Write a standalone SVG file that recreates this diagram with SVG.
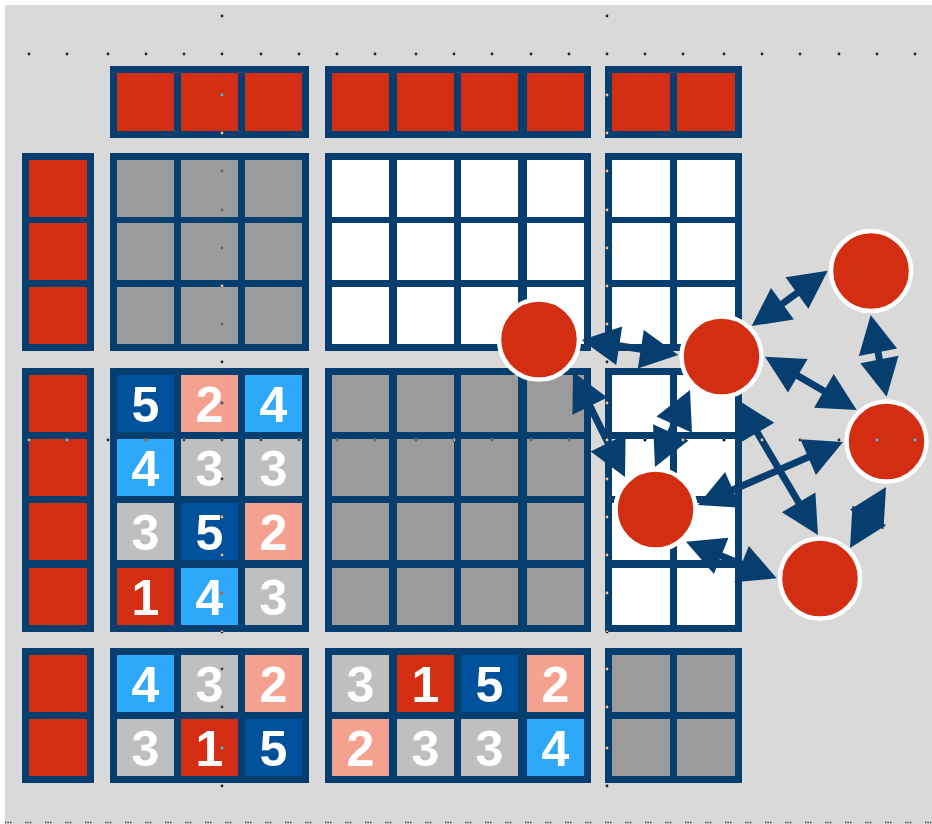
<svg xmlns="http://www.w3.org/2000/svg" width="932" height="824" viewBox="0 0 932 824">
<style>
.f{fill:#063F6F}
.r{fill:#D32E12}
.g{fill:#9B9B9B}
.w{fill:#FFFFFF}
.lg{fill:#BFBFBF}
.s{fill:#F4A190}
.lb{fill:#2EA8F9}
.db{fill:#00519B}
.n{font-family:"Liberation Sans",Arial,sans-serif;font-weight:bold;font-size:50px;fill:#FFFFFF;text-anchor:middle}
.node{fill:#D32E12;stroke:#FFFFFF;stroke-width:4.5}
.edge{stroke:#063F6F;stroke-width:7;fill:none}
.head{fill:#063F6F}
.dots circle{fill:#FFFFFF}
</style>
<rect x="0" y="0" width="932" height="824" fill="#FFFFFF"/>
<rect x="5" y="5" width="927" height="819" fill="#D9D9D9"/>

<!-- Top row -->
<g id="top-A">
<rect class="f" x="110" y="66" width="199" height="72"/>
<rect class="r" x="117" y="73" width="57" height="58"/><rect class="r" x="181" y="73" width="57" height="58"/><rect class="r" x="245" y="73" width="57" height="58"/>
</g>
<g id="top-B">
<rect class="f" x="325" y="66" width="266" height="72"/>
<rect class="r" x="332" y="73" width="57" height="58"/><rect class="r" x="397" y="73" width="57" height="58"/><rect class="r" x="461" y="73" width="57" height="58"/><rect class="r" x="527" y="73" width="57" height="58"/>
</g>
<g id="top-C">
<rect class="f" x="605" y="66" width="137" height="72"/>
<rect class="r" x="612" y="73" width="58" height="58"/><rect class="r" x="677" y="73" width="58" height="58"/>
</g>

<!-- Row block 1 -->
<g id="r1-L">
<rect class="f" x="22" y="153" width="72" height="198"/>
<rect class="r" x="29" y="160" width="58" height="57"/><rect class="r" x="29" y="223" width="58" height="57"/><rect class="r" x="29" y="287" width="58" height="57"/>
</g>
<g id="r1-A">
<rect class="f" x="110" y="153" width="199" height="198"/>
<rect class="g" x="117" y="160" width="57" height="57"/><rect class="g" x="181" y="160" width="57" height="57"/><rect class="g" x="245" y="160" width="57" height="57"/>
<rect class="g" x="117" y="223" width="57" height="57"/><rect class="g" x="181" y="223" width="57" height="57"/><rect class="g" x="245" y="223" width="57" height="57"/>
<rect class="g" x="117" y="287" width="57" height="57"/><rect class="g" x="181" y="287" width="57" height="57"/><rect class="g" x="245" y="287" width="57" height="57"/>
</g>
<g id="r1-B">
<rect class="f" x="325" y="153" width="266" height="198"/>
<rect class="w" x="332" y="160" width="57" height="57"/><rect class="w" x="397" y="160" width="57" height="57"/><rect class="w" x="461" y="160" width="57" height="57"/><rect class="w" x="527" y="160" width="57" height="57"/>
<rect class="w" x="332" y="223" width="57" height="57"/><rect class="w" x="397" y="223" width="57" height="57"/><rect class="w" x="461" y="223" width="57" height="57"/><rect class="w" x="527" y="223" width="57" height="57"/>
<rect class="w" x="332" y="287" width="57" height="57"/><rect class="w" x="397" y="287" width="57" height="57"/><rect class="w" x="461" y="287" width="57" height="57"/><rect class="w" x="527" y="287" width="57" height="57"/>
</g>
<g id="r1-C">
<rect class="f" x="605" y="153" width="137" height="198"/>
<rect class="w" x="612" y="160" width="58" height="57"/><rect class="w" x="677" y="160" width="58" height="57"/>
<rect class="w" x="612" y="223" width="58" height="57"/><rect class="w" x="677" y="223" width="58" height="57"/>
<rect class="w" x="612" y="287" width="58" height="57"/><rect class="w" x="677" y="287" width="58" height="57"/>
</g>

<!-- Row block 2 -->
<g id="r2-L">
<rect class="f" x="22" y="368" width="72" height="264"/>
<rect class="r" x="29" y="375" width="58" height="57"/><rect class="r" x="29" y="439" width="58" height="57"/><rect class="r" x="29" y="503" width="58" height="57"/><rect class="r" x="29" y="568" width="58" height="57"/>
</g>
<g id="r2-A">
<rect class="f" x="110" y="368" width="199" height="264"/>
<rect class="db" x="117" y="375" width="57" height="57"/><rect class="s" x="181" y="375" width="57" height="57"/><rect class="lb" x="245" y="375" width="57" height="57"/>
<rect class="lb" x="117" y="439" width="57" height="57"/><rect class="lg" x="181" y="439" width="57" height="57"/><rect class="lg" x="245" y="439" width="57" height="57"/>
<rect class="lg" x="117" y="503" width="57" height="57"/><rect class="db" x="181" y="503" width="57" height="57"/><rect class="s" x="245" y="503" width="57" height="57"/>
<rect class="r" x="117" y="568" width="57" height="57"/><rect class="lb" x="181" y="568" width="57" height="57"/><rect class="lg" x="245" y="568" width="57" height="57"/>
<text class="n" x="145.5" y="421.5">5</text><text class="n" x="209.5" y="421.5">2</text><text class="n" x="273.5" y="421.5">4</text>
<text class="n" x="145.5" y="485.5">4</text><text class="n" x="209.5" y="485.5">3</text><text class="n" x="273.5" y="485.5">3</text>
<text class="n" x="145.5" y="549.5">3</text><text class="n" x="209.5" y="549.5">5</text><text class="n" x="273.5" y="549.5">2</text>
<text class="n" x="145.5" y="614.5">1</text><text class="n" x="209.5" y="614.5">4</text><text class="n" x="273.5" y="614.5">3</text>
</g>
<g id="r2-B">
<rect class="f" x="325" y="368" width="266" height="264"/>
<rect class="g" x="332" y="375" width="57" height="57"/><rect class="g" x="397" y="375" width="57" height="57"/><rect class="g" x="461" y="375" width="57" height="57"/><rect class="g" x="527" y="375" width="57" height="57"/>
<rect class="g" x="332" y="439" width="57" height="57"/><rect class="g" x="397" y="439" width="57" height="57"/><rect class="g" x="461" y="439" width="57" height="57"/><rect class="g" x="527" y="439" width="57" height="57"/>
<rect class="g" x="332" y="503" width="57" height="57"/><rect class="g" x="397" y="503" width="57" height="57"/><rect class="g" x="461" y="503" width="57" height="57"/><rect class="g" x="527" y="503" width="57" height="57"/>
<rect class="g" x="332" y="568" width="57" height="57"/><rect class="g" x="397" y="568" width="57" height="57"/><rect class="g" x="461" y="568" width="57" height="57"/><rect class="g" x="527" y="568" width="57" height="57"/>
</g>
<g id="r2-C">
<rect class="f" x="605" y="368" width="137" height="264"/>
<rect class="w" x="612" y="375" width="58" height="57"/><rect class="w" x="677" y="375" width="58" height="57"/>
<rect class="w" x="612" y="439" width="58" height="57"/><rect class="w" x="677" y="439" width="58" height="57"/>
<rect class="w" x="612" y="503" width="58" height="57"/><rect class="w" x="677" y="503" width="58" height="57"/>
<rect class="w" x="612" y="568" width="58" height="57"/><rect class="w" x="677" y="568" width="58" height="57"/>
</g>

<!-- Row block 3 -->
<g id="r3-L">
<rect class="f" x="22" y="648" width="72" height="135"/>
<rect class="r" x="29" y="655" width="58" height="57"/><rect class="r" x="29" y="719" width="58" height="57"/>
</g>
<g id="r3-A">
<rect class="f" x="110" y="648" width="199" height="135"/>
<rect class="lb" x="117" y="655" width="57" height="57"/><rect class="lg" x="181" y="655" width="57" height="57"/><rect class="s" x="245" y="655" width="57" height="57"/>
<rect class="lg" x="117" y="719" width="57" height="57"/><rect class="r" x="181" y="719" width="57" height="57"/><rect class="db" x="245" y="719" width="57" height="57"/>
<text class="n" x="145.5" y="701.5">4</text><text class="n" x="209.5" y="701.5">3</text><text class="n" x="273.5" y="701.5">2</text>
<text class="n" x="145.5" y="765.5">3</text><text class="n" x="209.5" y="765.5">1</text><text class="n" x="273.5" y="765.5">5</text>
</g>
<g id="r3-B">
<rect class="f" x="325" y="648" width="266" height="135"/>
<rect class="lg" x="332" y="655" width="57" height="57"/><rect class="r" x="397" y="655" width="57" height="57"/><rect class="db" x="461" y="655" width="57" height="57"/><rect class="s" x="527" y="655" width="57" height="57"/>
<rect class="s" x="332" y="719" width="57" height="57"/><rect class="lg" x="397" y="719" width="57" height="57"/><rect class="lg" x="461" y="719" width="57" height="57"/><rect class="lb" x="527" y="719" width="57" height="57"/>
<text class="n" x="360.5" y="701.5">3</text><text class="n" x="425.5" y="701.5">1</text><text class="n" x="489.5" y="701.5">5</text><text class="n" x="555.5" y="701.5">2</text>
<text class="n" x="360.5" y="765.5">2</text><text class="n" x="425.5" y="765.5">3</text><text class="n" x="489.5" y="765.5">3</text><text class="n" x="555.5" y="765.5">4</text>
</g>
<g id="r3-C">
<rect class="f" x="605" y="648" width="137" height="135"/>
<rect class="g" x="612" y="655" width="58" height="57"/><rect class="g" x="677" y="655" width="58" height="57"/>
<rect class="g" x="612" y="719" width="58" height="57"/><rect class="g" x="677" y="719" width="58" height="57"/>
</g>

<!-- Connectors -->
<g id="connectors">
<g id="e1-2"><line class="edge" x1="596.5" y1="342.3" x2="663.5" y2="352.7"/>
<polygon class="head" points="581.7,340 616.2,365.1 622.2,326.5"/><polygon class="head" points="678.3,355 637.8,368.5 643.8,329.9"/></g>
<g id="e2-3"><line class="edge" x1="763.8" y1="317.2" x2="815.6" y2="279.5"/>
<polygon class="head" points="751.7,326 793.9,319.4 771,287.9"/><polygon class="head" points="827.7,270.7 808.4,308.8 785.5,277.3"/></g>
<g id="e3-4"><line class="edge" x1="873.6" y1="329.7" x2="883.8" y2="382"/>
<polygon class="head" points="870.7,315 858.9,356 897.1,348.5"/><polygon class="head" points="886.7,396.7 860.3,363.2 898.5,355.7"/></g>
<g id="e2-4"><line class="edge" x1="778" y1="364.2" x2="843.7" y2="402.5"/>
<polygon class="head" points="765,356.7 788,392.6 807.6,358.9"/><polygon class="head" points="856.7,410 814.1,407.8 833.7,374.1"/></g>
<g id="e1-5"><line class="edge" x1="579.7" y1="385.4" x2="618.3" y2="463.6"/>
<polygon class="head" points="573,372 572.4,414.7 607.3,397.4"/><polygon class="head" points="625,477 590.7,451.6 625.6,434.3"/></g>
<g id="e2-5"><line class="edge" x1="683.8" y1="403.7" x2="661.2" y2="453.3"/>
<polygon class="head" points="690,390 656.5,416.5 692,432.7"/><polygon class="head" points="655,467 653,424.3 688.5,440.5"/></g>
<g id="e2-6"><line class="edge" x1="745.6" y1="412.9" x2="810.4" y2="522.1"/>
<polygon class="head" points="738,400 740.6,442.6 774.2,422.8"/><polygon class="head" points="818,535 781.9,512.3 815.4,492.4"/></g>
<g id="e5-4"><line class="edge" x1="711.8" y1="499" x2="829.2" y2="448"/>
<polygon class="head" points="698,505 740.6,507.8 725.1,472"/><polygon class="head" points="843,442 815.9,475 800.4,439.3"/></g>
<g id="e5-6"><line class="edge" x1="699.9" y1="547.3" x2="762.8" y2="572.7"/>
<polygon class="head" points="686,541.7 713.9,574 728.5,537.8"/><polygon class="head" points="776.7,578.3 734.2,582.2 748.8,546"/></g>
<g id="e4-6"><line class="edge" x1="878.4" y1="499.9" x2="857.6" y2="535.1"/>
<polygon class="head" points="886,487 849.9,509.8 883.5,529.6"/><polygon class="head" points="850,548 852.5,505.4 886.1,525.2"/></g>
</g>

<!-- Nodes -->
<g id="node1"><circle class="node" cx="539" cy="339.5" r="40"/></g>
<g id="node2"><circle class="node" cx="721.5" cy="356.5" r="40"/></g>
<g id="node3"><circle class="node" cx="871" cy="271" r="40"/></g>
<g id="node4"><circle class="node" cx="886.5" cy="441.5" r="40"/></g>
<g id="node5"><circle class="node" cx="655.5" cy="509.5" r="40"/></g>
<g id="node6"><circle class="node" cx="820" cy="578.5" r="40"/></g>

<!-- guide dots -->
<g class="dots" style="mix-blend-mode:difference">
<circle cx="29" cy="54" r="1.4"/><circle cx="67" cy="54" r="1.4"/><circle cx="108" cy="54" r="1.4"/><circle cx="146" cy="54" r="1.4"/><circle cx="184" cy="54" r="1.4"/><circle cx="222" cy="54" r="1.4"/><circle cx="261" cy="54" r="1.4"/><circle cx="299" cy="54" r="1.4"/><circle cx="337" cy="54" r="1.4"/><circle cx="375" cy="54" r="1.4"/><circle cx="416" cy="54" r="1.4"/><circle cx="454" cy="54" r="1.4"/><circle cx="492" cy="54" r="1.4"/><circle cx="531" cy="54" r="1.4"/><circle cx="569" cy="54" r="1.4"/><circle cx="607" cy="54" r="1.4"/><circle cx="645" cy="54" r="1.4"/><circle cx="683" cy="54" r="1.4"/><circle cx="724" cy="54" r="1.4"/><circle cx="762" cy="54" r="1.4"/><circle cx="800" cy="54" r="1.4"/><circle cx="839" cy="54" r="1.4"/><circle cx="877" cy="54" r="1.4"/><circle cx="915" cy="54" r="1.4"/>
<circle cx="29" cy="440" r="1.4"/><circle cx="67" cy="440" r="1.4"/><circle cx="108" cy="440" r="1.4"/><circle cx="146" cy="440" r="1.4"/><circle cx="184" cy="440" r="1.4"/><circle cx="261" cy="440" r="1.4"/><circle cx="299" cy="440" r="1.4"/><circle cx="337" cy="440" r="1.4"/><circle cx="375" cy="440" r="1.4"/><circle cx="416" cy="440" r="1.4"/><circle cx="454" cy="440" r="1.4"/><circle cx="492" cy="440" r="1.4"/><circle cx="531" cy="440" r="1.4"/><circle cx="569" cy="440" r="1.4"/><circle cx="645" cy="440" r="1.4"/><circle cx="683" cy="440" r="1.4"/><circle cx="724" cy="440" r="1.4"/><circle cx="762" cy="440" r="1.4"/><circle cx="800" cy="440" r="1.4"/><circle cx="839" cy="440" r="1.4"/><circle cx="877" cy="440" r="1.4"/><circle cx="915" cy="440" r="1.4"/>
<circle cx="222" cy="16" r="1.4"/><circle cx="222" cy="95" r="1.4"/><circle cx="222" cy="133" r="1.4"/><circle cx="222" cy="171" r="1.4"/><circle cx="222" cy="210" r="1.4"/><circle cx="222" cy="248" r="1.4"/><circle cx="222" cy="286" r="1.4"/><circle cx="222" cy="324" r="1.4"/><circle cx="222" cy="362" r="1.4"/><circle cx="222" cy="403" r="1.4"/><circle cx="222" cy="440" r="1.4"/><circle cx="222" cy="479" r="1.4"/><circle cx="222" cy="517" r="1.4"/><circle cx="222" cy="555" r="1.4"/><circle cx="222" cy="593" r="1.4"/><circle cx="222" cy="632" r="1.4"/><circle cx="222" cy="669" r="1.4"/><circle cx="222" cy="707" r="1.4"/><circle cx="222" cy="748" r="1.4"/><circle cx="222" cy="786" r="1.4"/>
<circle cx="607" cy="16" r="1.4"/><circle cx="607" cy="95" r="1.4"/><circle cx="607" cy="133" r="1.4"/><circle cx="607" cy="171" r="1.4"/><circle cx="607" cy="210" r="1.4"/><circle cx="607" cy="248" r="1.4"/><circle cx="607" cy="286" r="1.4"/><circle cx="607" cy="324" r="1.4"/><circle cx="607" cy="362" r="1.4"/><circle cx="607" cy="403" r="1.4"/><circle cx="607" cy="440" r="1.4"/><circle cx="607" cy="479" r="1.4"/><circle cx="607" cy="517" r="1.4"/><circle cx="607" cy="555" r="1.4"/><circle cx="607" cy="593" r="1.4"/><circle cx="607" cy="632" r="1.4"/><circle cx="607" cy="669" r="1.4"/><circle cx="607" cy="707" r="1.4"/><circle cx="607" cy="748" r="1.4"/><circle cx="607" cy="786" r="1.4"/>
</g>
<line x1="5" y1="822.5" x2="932" y2="822.5" stroke="#3A3A3A" stroke-width="1.3" stroke-dasharray="1.3 1.2 1.3 1.2 1.3 13.7"/>
</svg>
